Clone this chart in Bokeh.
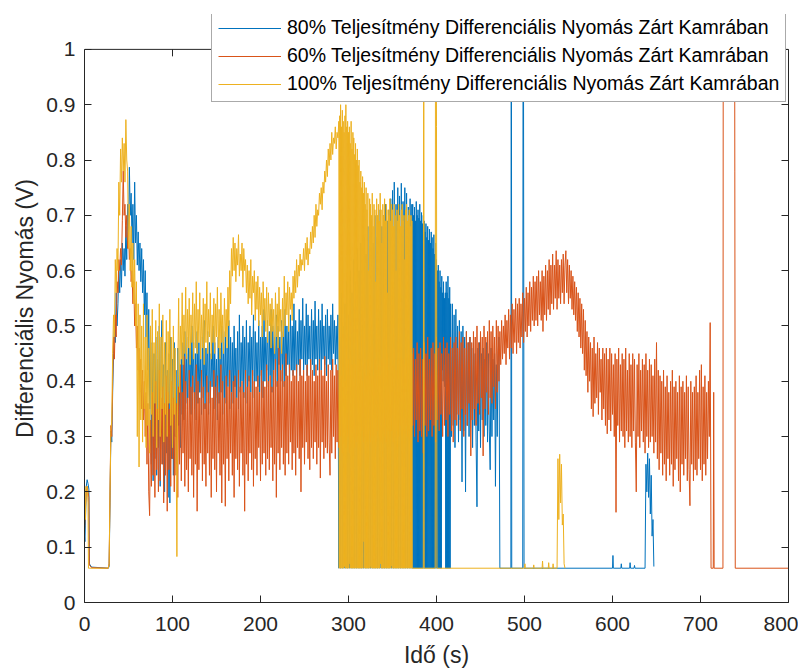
import numpy as np
from bokeh.plotting import figure
from bokeh.models import (Range1d, LinearAxis, FixedTicker, Legend, LegendItem,
                          ColumnDataSource, Span)
from bokeh.embed import file_html
from bokeh.resources import INLINE

# ---------------- data (values in thousandths of a volt, time in s) ----------------
x_ticks = [0, 100, 200, 300, 400, 500, 600, 700, 800]
y_ticks = [0, 0.1, 0.2, 0.3, 0.4, 0.5, 0.6, 0.7, 0.8, 0.9, 1]

labels = ["80% Teljesítmény Differenciális Nyomás Zárt Kamrában",
          "60% Teljesítmény Differenciális Nyomás Zárt Kamrában",
          "100% Teljesítmény Differenciális Nyomás Zárt Kamrában"]

# ---- 80 % (blue) ----
blue_head_t = [0, 0.5, 1, 2, 3, 4, 5, 5.5, 8, 27]
blue_head_v = [120, 110, 140, 210, 222, 215, 205, 70, 64, 62]
blue_a_t0, blue_a_dt = 28, 1.0
blue_a = [65, 180, 310, 290, 380, 450, 500, 470, 560, 500,
          540, 600, 560, 620, 570, 650, 600, 640, 590, 680,
          620, 720, 660, 787, 700, 740, 650, 720, 620, 760,
          650, 700, 610, 670, 600, 650, 580, 640, 560, 620,
          520, 600, 480, 560, 420, 530, 350, 500, 250, 470,
          220, 450, 260, 480, 230, 440, 280, 500, 210, 460,
          510, 250, 430, 200, 470, 270, 420, 190, 450, 180,
          480, 260, 440, 230, 470, 300, 420, 250, 460, 320,
          400, 280, 440, 340, 470, 330, 490, 360, 450, 350,
          480, 370, 460, 340, 500, 380, 470, 350, 450, 330,
          490, 360, 470, 380, 440, 340, 480, 370, 510, 350,
          460, 380, 490, 340, 470, 360, 450, 390, 500, 350,
          470, 370, 440, 330, 480, 360, 460, 380, 500, 340,
          470, 370, 490, 360, 460, 390, 510, 350, 480, 380,
          470, 360, 500, 390, 460, 370, 490, 350, 520, 380,
          470, 400, 500, 370, 480, 390, 510, 360, 470, 400,
          500, 380, 480, 410, 520, 370, 490, 400, 470, 390,
          510, 380, 480, 410, 500, 370, 530, 400, 480, 420,
          510, 390, 490, 410, 530, 380, 500, 420, 480, 400,
          520, 390, 500, 430, 480, 400, 510, 420, 490, 390,
          530, 410, 500, 430, 490, 400, 520, 420, 500, 410,
          540, 420, 510, 400, 490, 430, 530, 410, 510, 440,
          550, 420, 500, 430, 540, 410, 520, 440, 500, 420,
          530, 430, 510, 410, 545, 440, 500, 420, 530, 430,
          510, 420, 540, 440, 500, 430, 520, 410, 530, 440,
          500, 430, 520, 420, 540, 450, 510, 430, 500, 440,
          520, 62, 480, 62, 560, 62, 500, 62, 540, 62,
          580, 62, 520, 62, 600, 62, 560, 62, 620, 62,
          580, 62, 640, 62, 600, 62, 650, 62, 620, 62,
          660, 62, 630, 62, 680, 62, 640, 62, 690, 62,
          650, 62, 700, 62, 660, 62, 690, 62, 710, 62,
          680, 62, 700, 62, 720, 62, 690, 62, 710, 62,
          730, 62, 745, 62, 760, 62, 720, 62, 750, 62,
          735, 62, 758, 62, 725, 62, 750, 62, 740, 62,
          715, 62, 730, 62, 720]
blue_b_t0, blue_b_dt = 372.5, 0.5
blue_b = [62, 720, 62, 700, 62, 715, 62, 690, 62, 725, 62, 700, 62,
          710, 62, 695, 62, 720, 62, 690, 62, 705, 62, 685, 62, 700,
          62, 690, 62, 670, 62, 685, 62, 660, 62, 680, 62, 655, 62, 675,
          62, 650, 62, 670, 62, 660, 62, 640, 62, 665, 62, 630, 62, 650, 62, 620,
          62, 600, 62, 610, 62, 580, 62, 600, 62, 570, 62, 590,
          420, 560, 400, 580, 430, 550, 390, 560,
          62, 580, 62, 560, 62, 590, 62, 550, 62, 570, 62, 540]
blue_c_t0, blue_c_dt = 417, 1.0
blue_c = [300, 540, 320, 520, 280, 530, 340, 500, 290, 510,
          330, 490, 218, 500, 310, 480, 200, 490, 320, 470,
          300, 480, 330, 460, 280, 470, 320, 450, 290, 173,
          460, 310, 470, 280, 450, 330, 460, 300, 440, 320,
          470, 290, 450, 310, 240, 460, 300, 440, 330, 450,
          210, 430, 300, 450, 480]
blue_tail_t = [472, 484.5, 485, 485.5, 498, 498.5, 499, 499.5, 600, 600.5, 601,
               609.5, 610, 610.5, 619.5, 620, 620.5, 624.5, 625, 625.5, 637,
               638, 639, 640, 641, 642, 643, 644, 645, 646, 647]
blue_tail_v = [62, 62, 1500, 62, 62, 1500, 800, 62, 62, 85, 62,
               62, 70, 62, 62, 72, 62, 62, 67, 62, 62,
               250, 200, 270, 190, 260, 160, 230, 120, 150, 65]

# ---- 60 % (red) ----
red_head_t = [0, 1, 2, 3, 4, 5, 5.5, 8, 27]
red_head_v = [130, 170, 200, 210, 200, 190, 68, 63, 62]
red_a_t0, red_a_dt = 28, 1.0
red_a = [70, 200, 320, 300, 400, 480, 440, 520, 480, 580,
         560, 620, 600, 640, 610, 690, 780, 700, 720, 660,
         700, 640, 670, 620, 640, 580, 600, 540, 580, 500,
         540, 460, 500, 420, 460, 380, 440, 350, 420, 330,
         400, 300, 380, 250, 360, 200, 157, 330, 210, 380,
         230, 360, 190, 400, 240, 350, 200, 420, 220, 370,
         250, 390, 180, 360, 230, 410, 165, 380, 240, 350,
         210, 400, 260, 370, 200, 420, 230, 360, 190, 390,
         250, 430, 220, 380, 270, 445, 210, 400, 240, 370,
         200, 420, 260, 390, 230, 410, 190, 380, 250, 430,
         165, 400, 240, 370, 270, 420, 220, 390, 250, 360,
         210, 410, 270, 380, 230, 400, 190, 370, 260, 420,
         240, 390, 200, 410, 270, 380, 230, 430, 180, 400,
         250, 370, 174, 410, 260, 390, 220, 420, 270, 380,
         230, 400, 190, 410, 260, 370, 240, 420, 210, 390,
         270, 400, 230, 380, 165, 420, 250, 390, 220, 410,
         270, 380, 240, 420, 210, 400, 260, 390, 230, 410,
         280, 380, 220, 420, 250, 400, 270, 390, 230, 430,
         260, 400, 240, 410, 280, 390, 220, 420, 250, 440,
         190, 400, 270, 460, 240, 420, 280, 430, 250, 400,
         230, 450, 270, 410, 250, 430, 290, 400, 240, 420,
         270, 410, 230, 430, 280, 400, 260, 440, 200, 410,
         280, 420, 250, 400, 290, 430, 260, 410, 240, 440,
         280, 420, 260, 400, 290, 430, 250, 410, 280, 440,
         225, 420, 290, 410, 260, 445, 280, 400, 270, 430,
         290, 230, 420, 270, 440, 300, 410, 260, 430, 290,
         420, 280, 440, 300, 410, 270, 430, 290, 400, 280,
         420, 300, 440, 270, 410, 290, 430, 300, 400, 280,
         430, 290, 410, 300, 440, 280, 420, 310, 400, 290,
         430, 300, 410, 290, 440, 310, 420, 290, 430, 300,
         410, 300, 440, 290, 420, 310, 430, 300, 410, 290,
         440, 310, 420, 300, 430, 290, 450, 310, 420, 300,
         440, 310, 430, 290, 450, 300, 420, 310, 440, 300,
         430, 320, 450, 300, 440, 310, 430, 320, 450, 300,
         440, 310, 460, 300, 450]
red_b_t0, red_b_dt = 373, 1.0
red_b = [320, 460, 300, 440, 330, 470, 290, 450, 310, 460,
         300, 440, 270, 470, 320, 450, 300, 480, 310, 440,
         330, 460, 300, 470, 320, 450, 290, 480, 330, 460,
         310, 470, 340, 450, 300, 480, 320, 460, 330, 470,
         300, 450, 340, 480, 310, 460, 290, 470, 330, 480,
         320, 460, 340, 490, 310, 470, 350, 480, 300, 460,
         340, 490, 320, 470, 360, 480, 265, 470, 330, 490,
         350, 480, 320, 500, 360, 470, 340, 490, 370, 480,
         265, 500, 350, 480, 380, 490, 340, 510, 370, 490,
         360, 500, 390, 480, 350, 510, 380, 500, 400, 490,
         430, 510, 440, 500, 450, 520, 430, 510, 460, 530,
         440, 520, 460, 540, 450, 530, 470, 550, 450, 540,
         470, 550, 460, 540, 480, 560, 470, 550, 490, 570,
         480, 560, 500, 580, 490, 570, 510, 590, 500, 580,
         510, 590, 500, 600, 520, 580, 510, 600, 490, 590,
         520, 610, 510, 600, 530, 620, 520, 610, 540, 630,
         530, 610, 550, 636, 530, 620, 550, 610, 540, 620,
         560, 630, 540, 610, 636, 560, 620, 540, 610, 550,
         600, 530, 590, 520, 580, 510, 570, 490, 560, 480,
         550, 460, 540, 450, 530, 420, 510, 410, 490, 380,
         480, 400, 470, 350, 460, 336, 480, 360, 450, 370,
         470, 340, 460, 380, 440, 330, 460, 350, 450, 320,
         460, 305, 440, 330, 460, 310, 450, 340, 430, 300,
         450, 163, 440, 320, 460, 290, 430, 310, 450, 300,
         440, 280, 460, 310, 420, 290, 450, 300, 430, 280,
         450, 310, 440, 290, 200, 430, 300, 450, 280, 420,
         310, 440, 290, 430, 270, 450, 300, 420, 280, 440,
         290, 430, 300, 410, 270, 440, 290, 470, 260, 420,
         240, 410, 270, 400, 230, 420, 250, 390, 220, 410,
         260, 380, 230, 400, 250, 420, 210, 390, 240, 400,
         260, 380, 220, 410, 200, 390, 250, 400, 230, 380,
         260, 410, 220, 390, 240, 175, 400, 250, 380, 220,
         390, 240, 410, 230, 380, 260, 420, 240, 430, 220,
         390, 250, 410, 230, 380, 260, 400, 300, 506]
red_tail_t = [712, 714.5, 715, 715.5, 725.5, 726, 738.5, 739, 739.5, 800]
red_tail_v = [62, 62, 380, 62, 62, 1500, 1500, 780, 62, 62]

# ---- 100 % (yellow) ----
yellow_head_t = [0, 0.5, 1, 2, 3, 4, 4.5, 6, 27]
yellow_head_v = [130, 210, 150, 205, 210, 180, 62, 62, 62]
yellow_a_t0, yellow_a_dt = 28, 1.0
yellow_a = [70, 200, 310, 330, 450, 520, 480, 620, 560, 640,
            600, 760, 700, 820, 760, 840, 780, 830, 760, 873,
            800, 780, 640, 720, 600, 680, 570, 650, 540, 620,
            500, 580, 300, 540, 245, 520, 330, 500, 290, 540,
            350, 480, 280, 520, 320, 460, 270, 500, 340, 530,
            300, 470, 360, 510, 280, 490, 330, 540, 300, 480,
            350, 520, 290, 470, 340, 510, 300, 490, 360, 530,
            320, 480, 280, 500, 340, 460, 300, 83, 420, 550,
            380, 500, 440, 560, 430, 520, 450, 570, 440, 530,
            460, 550, 430, 520, 470, 560, 440, 540, 460, 580,
            450, 530, 470, 560, 440, 520, 460, 550, 430, 540,
            470, 580, 450, 530, 480, 560, 440, 520, 470, 550,
            450, 540, 480, 570, 460, 530, 440, 560, 470, 520,
            450, 550, 480, 530, 460, 570, 500, 600, 540, 640,
            590, 660, 600, 650, 580, 640, 610, 665, 590, 630,
            600, 650, 570, 640, 600, 620, 560, 610, 540, 600,
            550, 620, 520, 590, 560, 600, 510, 580, 530, 590,
            500, 570, 520, 560, 480, 580, 510, 550, 490, 570,
            470, 560, 500, 540, 460, 550, 490, 530, 450, 560,
            480, 540, 460, 570, 490, 530, 450, 550, 480, 590,
            500, 560, 520, 580, 490, 570, 530, 560, 510, 590,
            550, 600, 560, 620, 570, 610, 590, 630, 600, 620,
            610, 640, 600, 650, 620, 660, 610, 640, 630, 670,
            640, 680, 650, 700, 660, 720, 680, 710, 700, 740,
            720, 750, 710, 760, 740, 780, 760, 800, 770, 820,
            790, 830, 800, 850, 810, 840, 830, 860, 820, 850,
            840, 870]
yellow_b_t0, yellow_b_dt = 289.5, 0.5
yellow_b = [62, 880, 62, 900, 62, 860, 62, 890, 62, 870,
            62, 850, 65, 880, 62, 900, 62, 860, 62, 870,
            62, 850, 62, 860, 70, 830, 62, 870, 62, 820,
            62, 850, 62, 840, 62, 810, 62, 830, 62, 800,
            62, 820, 62, 790, 62, 800, 62, 760, 62, 780,
            62, 750, 62, 770, 62, 740, 110, 760, 62, 720,
            62, 750, 62, 710, 62, 740, 62, 600, 62, 730,
            62, 720, 65, 700, 62, 740, 62, 680, 62, 720,
            62, 710, 62, 580, 62, 730, 62, 700, 62, 720,
            62, 690, 62, 740, 70, 710, 62, 650, 62, 720,
            62, 700, 62, 730, 62, 690, 62, 720, 62, 560,
            62, 710, 62, 700, 62, 730, 62, 690, 66, 720,
            62, 710, 62, 680, 62, 720, 62, 700, 62, 600,
            62, 710, 62, 690, 62, 720, 62, 700, 62, 680,
            62, 710, 62, 720, 62, 690, 62, 700, 62, 620,
            62, 710, 62, 720, 62, 690, 62, 700, 62, 710,
            62, 680, 62, 700, 62, 690]
yellow_tail_t = [372.5, 385, 385.5, 386, 398.5, 399, 400, 400.5,
                 500, 500.5, 501, 510, 510.5, 511, 520, 520.5, 521,
                 527, 527.5, 528, 532, 532.5, 533, 537,
                 538, 539, 540, 541, 542, 543, 544, 545, 546]
yellow_tail_v = [62, 62, 1500, 62, 62, 1500, 860, 62,
                 62, 70, 62, 62, 68, 62, 62, 75, 62,
                 62, 72, 62, 62, 70, 62, 62,
                 260, 150, 268, 180, 250, 140, 160, 70, 62]


def build(head_t, head_v, segments, tail_t, tail_v):
    t = list(head_t)
    v = list(head_v)
    for t0, dt, vals in segments:
        t += [t0 + dt * i for i in range(len(vals))]
        v += list(vals)
    t += list(tail_t)
    v += list(tail_v)
    return dict(t=np.array(t, dtype=float), v=np.array(v, dtype=float) / 1000.0)


blue = build(blue_head_t, blue_head_v,
             [(blue_a_t0, blue_a_dt, blue_a), (blue_b_t0, blue_b_dt, blue_b),
              (blue_c_t0, blue_c_dt, blue_c)], blue_tail_t, blue_tail_v)
red = build(red_head_t, red_head_v,
            [(red_a_t0, red_a_dt, red_a), (red_b_t0, red_b_dt, red_b)],
            red_tail_t, red_tail_v)
yellow = build(yellow_head_t, yellow_head_v,
               [(yellow_a_t0, yellow_a_dt, yellow_a), (yellow_b_t0, yellow_b_dt, yellow_b)],
               yellow_tail_t, yellow_tail_v)

# ---------------- figure ----------------
FONT = "Liberation Sans"
AX = "#262626"
COLORS = ["#0072BD", "#D95319", "#EDB120"]

# axes box occupies 555 px for 0..1; the frame reaches 35 px higher so the
# legend (which sticks out above the box, as in the reference) is not clipped
AX_H = 555
EXTRA = 35
Y_TOP = 1 + EXTRA / AX_H

p = figure(width=798, height=670,
           x_range=Range1d(0, 800), y_range=Range1d(0, Y_TOP),
           output_backend="svg", toolbar_location=None,
           min_border_left=84, min_border_right=10,
           min_border_top=14, min_border_bottom=66,
           x_axis_label="Idő (s)", y_axis_label="Differenciális Nyomás (V)")
p.xgrid.visible = False
p.ygrid.visible = False
p.outline_line_color = None
p.background_fill_color = "white"
p.border_fill_color = "white"


def style_axis(ax):
    ax.axis_line_color = AX
    ax.axis_line_width = 1
    ax.major_tick_line_color = AX
    ax.major_tick_line_width = 1
    ax.major_tick_in = 7
    ax.major_tick_out = 0
    ax.minor_tick_line_color = None
    ax.major_label_text_font = FONT
    ax.major_label_text_font_size = "21px"
    ax.major_label_text_color = AX
    ax.axis_label_text_font = FONT
    ax.axis_label_text_font_size = "23px"
    ax.axis_label_text_font_style = "normal"
    ax.axis_label_text_color = AX


p.xaxis.ticker = FixedTicker(ticks=x_ticks)
p.yaxis.ticker = FixedTicker(ticks=y_ticks)
p.yaxis.bounds = (0, 1)
p.yaxis.major_label_overrides = {0: "0", 1: "1"}
for ax in p.xaxis + p.yaxis:
    style_axis(ax)
p.xaxis.major_label_standoff = 14
p.xaxis.axis_label_standoff = 8
p.yaxis.major_label_standoff = 9
p.yaxis.axis_label_standoff = 5

right = LinearAxis(ticker=FixedTicker(ticks=y_ticks), bounds=(0, 1),
                   major_label_overrides={t: "" for t in y_ticks})
style_axis(right)
right.major_label_standoff = 0
p.add_layout(right, "right")

renderers = []
for data, color in zip([blue, red, yellow], COLORS):
    r = p.line("t", "v", source=ColumnDataSource(data), line_color=color,
               line_width=1)
    renderers.append(r)

# top edge of the axes box with inward ticks
p.add_layout(Span(location=1, dimension="width", line_color=AX, line_width=1))
tick_len = 7 / AX_H
p.segment(x0=x_ticks, y0=[1] * len(x_ticks), x1=x_ticks,
          y1=[1 - tick_len] * len(x_ticks), line_color=AX, line_width=1)

legend = Legend(items=[LegendItem(label=lab, renderers=[r])
                       for lab, r in zip(labels, renderers)],
                location=(127, 500))
legend.label_text_font = FONT
legend.label_text_font_size = "19.5px"
legend.label_text_color = "#000000"
legend.glyph_width = 63
legend.glyph_height = 22
legend.label_height = 22
legend.label_standoff = 6
legend.spacing = 5
legend.padding = 6
legend.margin = 0
legend.border_line_color = "#555555"
legend.border_line_width = 1
legend.background_fill_color = "white"
legend.background_fill_alpha = 1
p.add_layout(legend, "center")

open("out.html", "w").write(file_html(p, INLINE))
